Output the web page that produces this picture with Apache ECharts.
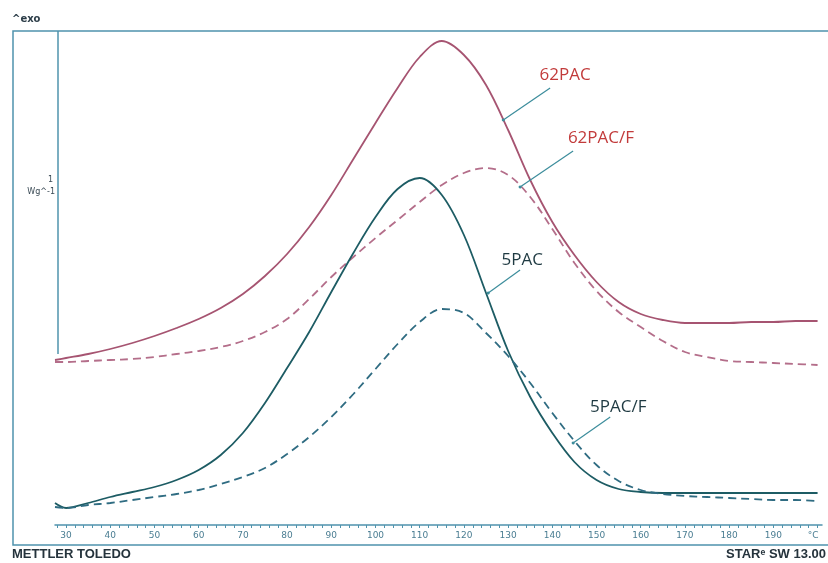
<!DOCTYPE html>
<html>
<head>
<meta charset="utf-8">
<title>DSC 62PAC / 5PAC</title>
<script src="https://cdn.jsdelivr.net/npm/echarts@6/dist/echarts.min.js"></script>
<style>
  html, body { margin: 0; padding: 0; background: #fff; }
  #chart { width: 828px; height: 563px; }
</style>
</head>
<body>
<div id="chart"></div>
<script>
// temperature (°C) shared by all curves
var temps = [27.5, 30, 35, 40, 45, 50, 55, 60, 65, 70, 75, 80, 85, 90, 95, 100, 105, 110, 115, 120, 125, 130, 135, 140, 145, 150, 155, 160, 165, 170, 175, 180, 185, 190, 195, 200];
// heat flow, arbitrary units (exo up)
var pac62 = [165, 167, 171, 176, 182, 189, 197, 206, 217, 231, 249, 271, 298, 330, 366, 402, 437, 468, 484, 470, 440, 395, 345, 303, 270, 243, 223, 211, 205, 202, 202, 202, 203, 203, 204, 204];
var pac62F = [163, 163, 164, 165, 166, 168, 171, 174, 178, 184, 193, 206, 226, 248, 268, 287, 305, 323, 340, 352, 357, 350, 328, 296, 262, 234, 213, 198, 184, 173, 168, 164, 163, 162, 161, 160];
var pac5 = [22, 17, 22, 28, 33, 38, 45, 55, 70, 92, 122, 157, 193, 233, 272, 308, 336, 347, 330, 290, 232, 174, 128, 92, 63, 45, 36, 33, 32, 32, 32, 32, 32, 32, 32, 32];
var pac5F = [18, 17, 20, 22, 25, 28, 31, 35, 41, 48, 57, 71, 88, 108, 131, 156, 181, 203, 216, 212, 192, 169, 142, 112, 84, 60, 44, 35, 31, 29, 28, 27, 26, 25, 25, 24];

var tickLabels = [30, 40, 50, 60, 70, 80, 90, 100, 110, 120, 130, 140, 150, 160, 170, 180, 190];
var minorTicks = [28, 30, 32, 34, 36, 38, 40, 42, 44, 46, 48, 50, 52, 54, 56, 58, 60, 62, 64, 66, 68, 70, 72, 74, 76, 78, 80, 82, 84, 86, 88, 90, 92, 94, 96, 98, 100, 102, 104, 106, 108, 110, 112, 114, 116, 118, 120, 122, 124, 126, 128, 130, 132, 134, 136, 138, 140, 142, 144, 146, 148, 150, 152, 154, 156, 158, 160, 162, 164, 166, 168, 170, 172, 174, 176, 178, 180, 182, 184, 186, 188, 190, 192, 194, 196, 198, 200];
var unitPos = 199;

// curve labels: [text, label T, label value, leader start T, value, leader end T, value]
var annotations = [
  ["62PAC", 142.9, 450, 128.9, 405, 139.5, 437],
  ["62PAC/F", 151.0, 387, 132.7, 338, 144.7, 374],
  ["5PAC", 133.2, 265, 125.5, 232, 132.7, 255],
  ["5PAC/F", 154.9, 118, 144.7, 82, 153.1, 108]
];

var names = ["62PAC", "62PAC/F", "5PAC", "5PAC/F"];
var values = [pac62, pac62F, pac5, pac5F];
var colors = ["#a65471", "#b46e8a", "#1d5c64", "#2f6c82"];
var dashes = ["solid", [8, 5], "solid", [8, 5]];
var labelColors = ["#c23b3b", "#c23b3b", "#1f3a42", "#1f3a42"];
var frameColor = "#4f93ad";

var chart = echarts.init(document.getElementById("chart"));

var series = [];
names.forEach(function(n, i) {
  var a = annotations[i];
  series.push({
    name: n,
    type: "line",
    smooth: 0.35,
    showSymbol: false,
    data: temps.map(function(t, k) { return [t, values[i][k]]; }),
    lineStyle: { width: 1.8, color: colors[i], type: dashes[i] },
    markLine: {
      silent: true,
      symbol: ["circle", "none"],
      symbolSize: 3,
      label: { show: false },
      lineStyle: { color: "#3c8d9c", width: 1.2, type: "solid" },
      data: [[{ coord: [a[3], a[4]] }, { coord: [a[5], a[6]] }]]
    },
    markPoint: {
      silent: true,
      symbol: "circle",
      symbolSize: 0,
      data: [{
        coord: [a[1], a[2]],
        label: {
          show: true,
          position: "inside",
          formatter: a[0],
          color: labelColors[i],
          fontFamily: "Open Sans",
          fontSize: 17
        }
      }]
    }
  });
});

var option = {
  backgroundColor: "#fff",
  animation: false,
  grid: { left: 55, right: 6, top: 30, bottom: 38 },
  xAxis: {
    type: "value",
    min: 27.5,
    max: 201,
    axisLine: { show: true, lineStyle: { color: frameColor, width: 1.5 } },
    axisTick: {
      show: true,
      length: 3,
      customValues: minorTicks,
      lineStyle: { color: frameColor }
    },
    axisLabel: {
      customValues: tickLabels.concat([unitPos]),
      formatter: function(v) { return v === unitPos ? "°C" : String(v); },
      color: "#4a7d92",
      fontFamily: "DejaVu Sans",
      fontSize: 9,
      margin: 6
    },
    splitLine: { show: false }
  },
  yAxis: {
    type: "value",
    min: 0,
    max: 495,
    show: false
  },
  series: series,
  graphic: [
    // frame
    { type: "polyline", shape: { points: [[828, 31], [13, 31], [13, 545], [828, 545]] }, style: { fill: null, stroke: frameColor, lineWidth: 1.5 } },
    // scale bar
    { type: "line", shape: { x1: 58, y1: 31, x2: 58, y2: 354 }, style: { stroke: frameColor, lineWidth: 1.5 } },
    { type: "text", x: 53, y: 176, style: { text: "1", fill: "#3a4a55", font: "8px DejaVu Sans", align: "right" } },
    { type: "text", x: 55, y: 188, style: { text: "Wg^-1", fill: "#3a4a55", font: "8px DejaVu Sans", align: "right" } },
    { type: "text", x: 12, y: 14, style: { text: "^exo", fill: "#2c3d48", font: "bold 10px DejaVu Sans" } },
    { type: "text", x: 12, y: 548, style: { text: "METTLER TOLEDO", fill: "#25333c", font: "bold 13px Liberation Sans" } },
    { type: "text", x: 826, y: 548, style: { text: "STARᵉ SW 13.00", fill: "#25333c", font: "bold 13px Liberation Sans", align: "right" } }
  ]
};

chart.setOption(option);
window.addEventListener("resize", function() {
  chart.resize();
});
</script>
</body>
</html>
